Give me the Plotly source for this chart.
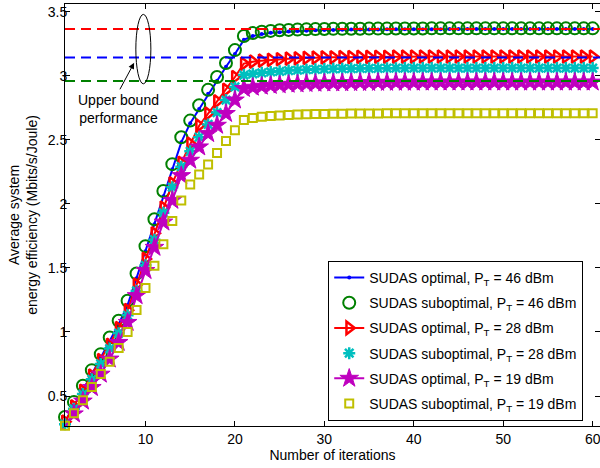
import plotly.graph_objects as go

iterations = list(range(1, 61))

opt_46 = [0.300, 0.430, 0.550, 0.670, 0.800, 0.930, 1.060, 1.210, 1.420, 1.630,
          1.840, 2.060, 2.270, 2.480, 2.630, 2.740, 2.860, 2.960, 3.070, 3.170,
          3.280, 3.310, 3.325, 3.335, 3.340, 3.345, 3.349, 3.352, 3.355, 3.357,
          3.358, 3.359, 3.360, 3.360, 3.361, 3.361, 3.362, 3.362, 3.362, 3.363,
          3.363, 3.363, 3.363, 3.364, 3.364, 3.364, 3.364, 3.364, 3.364, 3.365,
          3.365, 3.365, 3.365, 3.365, 3.365, 3.365, 3.365, 3.365, 3.365, 3.365]

sub_46 = [0.336, 0.454, 0.580, 0.702, 0.827, 0.957, 1.088, 1.244, 1.456, 1.670,
          1.880, 2.100, 2.310, 2.520, 2.650, 2.770, 2.890, 2.990, 3.100, 3.200,
          3.310, 3.333, 3.343, 3.350, 3.355, 3.358, 3.360, 3.362, 3.364, 3.365,
          3.366, 3.366, 3.367, 3.367, 3.368, 3.368, 3.368, 3.369, 3.369, 3.369,
          3.369, 3.370, 3.370, 3.370, 3.370, 3.370, 3.370, 3.370, 3.370, 3.370,
          3.370, 3.370, 3.370, 3.370, 3.370, 3.370, 3.370, 3.370, 3.370, 3.370]

opt_28 = [0.300, 0.420, 0.540, 0.660, 0.780, 0.900, 1.030, 1.170, 1.370, 1.570,
          1.770, 1.970, 2.160, 2.320, 2.470, 2.610, 2.705, 2.800, 2.890, 2.990,
          3.095, 3.110, 3.118, 3.124, 3.129, 3.133, 3.136, 3.139, 3.141, 3.143,
          3.144, 3.145, 3.146, 3.147, 3.147, 3.148, 3.148, 3.149, 3.149, 3.149,
          3.150, 3.150, 3.150, 3.150, 3.150, 3.150, 3.150, 3.150, 3.150, 3.150,
          3.150, 3.150, 3.150, 3.150, 3.150, 3.150, 3.150, 3.150, 3.150, 3.150]

sub_28 = [0.280, 0.400, 0.515, 0.630, 0.750, 0.870, 0.990, 1.130, 1.320, 1.520,
          1.720, 1.930, 2.130, 2.290, 2.410, 2.520, 2.620, 2.713, 2.810, 2.913,
          3.005, 3.015, 3.023, 3.030, 3.035, 3.040, 3.044, 3.047, 3.050, 3.052,
          3.054, 3.055, 3.056, 3.057, 3.058, 3.058, 3.059, 3.059, 3.060, 3.060,
          3.060, 3.060, 3.060, 3.060, 3.060, 3.060, 3.060, 3.060, 3.060, 3.060,
          3.060, 3.060, 3.060, 3.060, 3.060, 3.060, 3.060, 3.060, 3.060, 3.060]

opt_19 = [0.260, 0.360, 0.460, 0.566, 0.670, 0.788, 0.918, 1.074, 1.283, 1.479,
          1.660, 1.857, 2.027, 2.220, 2.340, 2.444, 2.548, 2.613, 2.705, 2.810,
          2.900, 2.910, 2.918, 2.924, 2.929, 2.933, 2.936, 2.939, 2.941, 2.943,
          2.944, 2.945, 2.946, 2.947, 2.947, 2.948, 2.948, 2.949, 2.949, 2.949,
          2.950, 2.950, 2.950, 2.950, 2.950, 2.950, 2.950, 2.950, 2.950, 2.950,
          2.950, 2.950, 2.950, 2.950, 2.950, 2.950, 2.950, 2.950, 2.950, 2.950]

sub_19 = [0.268, 0.365, 0.467, 0.571, 0.671, 0.767, 0.874, 1.000, 1.171, 1.343,
          1.516, 1.685, 1.866, 2.027, 2.152, 2.230, 2.308, 2.397, 2.490, 2.574,
          2.655, 2.670, 2.680, 2.686, 2.690, 2.694, 2.697, 2.699, 2.701, 2.702,
          2.703, 2.704, 2.705, 2.705, 2.706, 2.706, 2.707, 2.707, 2.707, 2.708,
          2.708, 2.708, 2.708, 2.708, 2.708, 2.708, 2.708, 2.708, 2.708, 2.708,
          2.708, 2.708, 2.708, 2.708, 2.708, 2.708, 2.708, 2.708, 2.708, 2.708]

bound_x = [1, 61]
bound_46 = 3.365
bound_28 = 3.143
bound_19 = 2.958

FONT = "Liberation Sans, Arial, Helvetica, sans-serif"

fig = go.Figure()

fig.add_trace(go.Scatter(
    x=iterations, y=opt_46, mode="lines+markers", legendgroup="g1",
    name="SUDAS optimal, P<sub>T</sub> = 46 dBm",
    line=dict(color="#0000FF", width=2),
    marker=dict(symbol="circle", size=4, color="#0000FF"),
    cliponaxis=False))
fig.add_trace(go.Scatter(
    x=iterations, y=sub_46, mode="markers", legendgroup="g2",
    name="SUDAS suboptimal, P<sub>T</sub> = 46 dBm",
    marker=dict(symbol="circle-open", size=12, color="#008000",
                line=dict(color="#008000", width=2)),
    cliponaxis=False))
fig.add_trace(go.Scatter(
    x=iterations, y=opt_28, mode="lines+markers", legendgroup="g3",
    name="SUDAS optimal, P<sub>T</sub> = 28 dBm",
    line=dict(color="#FF0000", width=2),
    marker=dict(symbol="triangle-right-open", size=11, color="#FF0000",
                line=dict(color="#FF0000", width=2.5)),
    cliponaxis=False))
fig.add_trace(go.Scatter(
    x=iterations, y=sub_28, mode="markers", legendgroup="g4",
    name="SUDAS suboptimal, P<sub>T</sub> = 28 dBm",
    marker=dict(symbol="asterisk-open", size=10, color="#00BFBF",
                line=dict(color="#00BFBF", width=2.5)),
    cliponaxis=False))
fig.add_trace(go.Scatter(
    x=iterations, y=opt_19, mode="lines+markers", legendgroup="g5",
    name="SUDAS optimal, P<sub>T</sub> = 19 dBm",
    line=dict(color="#BF00BF", width=2),
    marker=dict(symbol="star", size=14, color="#BF00BF",
                line=dict(color="#BF00BF", width=1)),
    cliponaxis=False))
fig.add_trace(go.Scatter(
    x=iterations, y=sub_19, mode="markers", legendgroup="g6",
    name="SUDAS suboptimal, P<sub>T</sub> = 19 dBm",
    marker=dict(symbol="square-open", size=8, color="#BFBF00",
                line=dict(color="#BFBF00", width=2)),
    cliponaxis=False))

for val, col in [(bound_46, "#FF0000"), (bound_28, "#0000FF"), (bound_19, "#008000")]:
    fig.add_trace(go.Scatter(
        x=bound_x, y=[val, val], mode="lines", showlegend=False,
        line=dict(color=col, width=2, dash="10px,6px"), hoverinfo="skip"))

# ellipse around the upper-bound lines
fig.add_shape(type="circle", xref="x", yref="y",
              x0=8.92, x1=10.60, y0=2.937, y1=3.479,
              line=dict(color="black", width=1))

fig.add_annotation(x=8.73, y=3.101, xref="x", yref="y",
                   ax=-15, ay=28, showarrow=True, arrowhead=2,
                   arrowsize=1.2, arrowwidth=1, arrowcolor="black", text="")
fig.add_annotation(x=6.94, y=2.74, xref="x", yref="y", showarrow=False,
                   text="Upper bound<br>performance",
                   font=dict(family=FONT, size=14, color="black"))

axis_common = dict(showline=True, linecolor="black", linewidth=1, mirror="ticks",
                   ticks="inside", ticklen=5, tickcolor="black", showgrid=False,
                   zeroline=False, ticklabeloverflow="allow",
                   tickfont=dict(family=FONT, size=14, color="black"))

fig.update_xaxes(range=[1, 60.82], tickvals=[10, 20, 30, 40, 50, 60],
                 title=dict(text="Number of iterations", standoff=2,
                            font=dict(family=FONT, size=14, color="black")),
                 **axis_common)
fig.update_yaxes(range=[0.266, 3.560], tickvals=[0.5, 1, 1.5, 2, 2.5, 3, 3.5],
                 ticktext=["0.5", "1", "1.5", "2", "2.5", "3", "3.5"],
                 ticklabelstandoff=-6,
                 title=dict(text="Average system<br>energy efficiency (Mbits/s/Joule)",
                            standoff=6,
                            font=dict(family=FONT, size=14, color="black")),
                 **axis_common)

fig.update_layout(
    width=600, height=468,
    margin=dict(l=65, r=0, t=4, b=42),
    plot_bgcolor="white", paper_bgcolor="white",
    font=dict(family=FONT, size=14, color="black"),
    legend=dict(x=0.492, xanchor="left", y=0.012, yanchor="bottom",
                bgcolor="white", bordercolor="black", borderwidth=1,
                font=dict(family=FONT, size=14, color="black"),
                traceorder="grouped", tracegroupgap=4),
)

fig.write_html("out.html", config={"displayModeBar": False},
               post_script="document.body.style.margin='0';document.body.style.overflow='hidden';")
